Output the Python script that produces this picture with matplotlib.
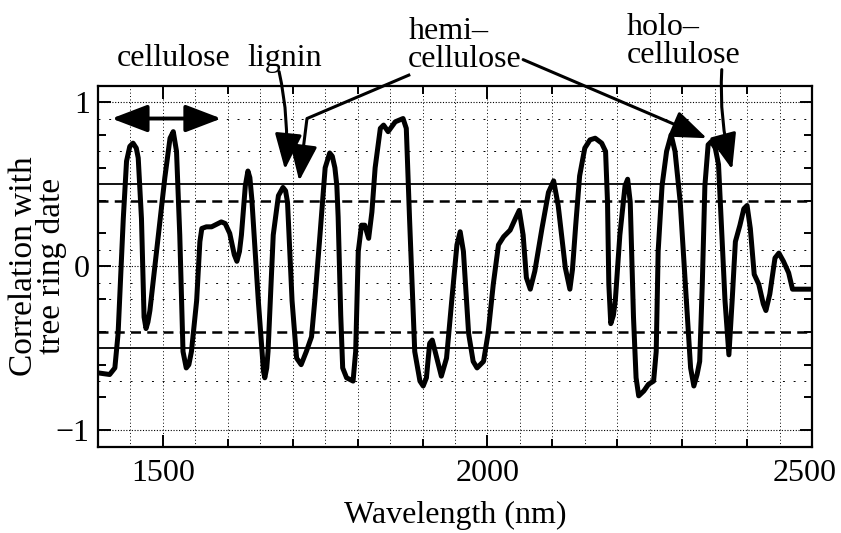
import matplotlib.pyplot as plt
from matplotlib.ticker import MultipleLocator
from matplotlib.transforms import ScaledTranslation

# ------ traced curve: correlation of NIR spectra with tree ring date
wavelength = [1400, 1418, 1426, 1431, 1439, 1444, 1449, 1454, 1459, 1462,
              1467, 1471, 1474, 1477, 1480, 1493, 1503, 1511, 1516, 1521,
              1526, 1531, 1536, 1540, 1544, 1552, 1557, 1560, 1567, 1575,
              1580, 1590, 1596, 1603, 1610, 1614, 1618, 1621, 1627, 1631,
              1634, 1637, 1647, 1655, 1657, 1660, 1662, 1670, 1678, 1685,
              1689, 1692, 1699, 1706, 1713, 1721, 1729, 1734, 1742, 1750,
              1757, 1761, 1765, 1768, 1770, 1774, 1777, 1783, 1793, 1797,
              1801, 1806, 1811, 1817, 1822, 1827, 1835, 1840, 1847, 1858,
              1870, 1875, 1880, 1888, 1896, 1901, 1906, 1911, 1915, 1922,
              1929, 1937, 1945, 1953, 1958, 1963, 1971, 1978, 1984, 1994,
              2001, 2009, 2017, 2025, 2035, 2043, 2049, 2055, 2060, 2066,
              2073, 2084, 2094, 2102, 2109, 2120, 2127, 2131, 2136, 2142,
              2150, 2158, 2166, 2176, 2182, 2185, 2187, 2190, 2194, 2197,
              2204, 2212, 2216, 2220, 2225, 2229, 2233, 2241, 2248, 2256,
              2260, 2263, 2269, 2276, 2283, 2289, 2297, 2305, 2313, 2318,
              2323, 2327, 2331, 2335, 2340, 2345, 2351, 2356, 2360, 2366,
              2372, 2377, 2382, 2389, 2395, 2400, 2405, 2411, 2418, 2425,
              2429, 2435, 2443, 2449, 2456, 2464, 2470, 2479, 2500]
correlation = [-0.65, -0.66, -0.62, -0.41, 0.29, 0.64, 0.73, 0.75, 0.72, 0.66,
               0.29, -0.31, -0.38, -0.34, -0.27, 0.19, 0.54, 0.78, 0.82, 0.70,
               0.19, -0.52, -0.62, -0.60, -0.52, -0.21, 0.15, 0.23, 0.24, 0.24,
               0.25, 0.27, 0.26, 0.20, 0.07, 0.03, 0.09, 0.19, 0.49, 0.58,
               0.54, 0.41, -0.21, -0.64, -0.68, -0.62, -0.52, 0.19, 0.43, 0.48,
               0.46, 0.39, -0.21, -0.56, -0.60, -0.52, -0.43, -0.21, 0.19, 0.60,
               0.69, 0.67, 0.60, 0.49, 0.30, -0.30, -0.62, -0.68, -0.70, -0.52,
               0.09, 0.25, 0.25, 0.17, 0.33, 0.60, 0.84, 0.86, 0.82, 0.88,
               0.90, 0.84, 0.29, -0.52, -0.70, -0.73, -0.68, -0.47, -0.45, -0.56,
               -0.67, -0.56, -0.21, 0.13, 0.21, 0.09, -0.41, -0.58, -0.62, -0.58,
               -0.41, -0.11, 0.13, 0.18, 0.22, 0.29, 0.34, 0.19, -0.07, -0.14,
               -0.03, 0.23, 0.45, 0.52, 0.37, -0.01, -0.14, -0.02, 0.25, 0.55,
               0.72, 0.77, 0.78, 0.75, 0.70, 0.39, -0.11, -0.35, -0.30, -0.21,
               0.19, 0.49, 0.53, 0.39, -0.31, -0.68, -0.79, -0.76, -0.72, -0.70,
               -0.52, 0.09, 0.49, 0.70, 0.80, 0.70, 0.39, -0.11, -0.62, -0.73,
               -0.66, -0.58, -0.11, 0.49, 0.74, 0.76, 0.72, 0.62, 0.29, -0.21,
               -0.54, -0.21, 0.15, 0.25, 0.35, 0.37, 0.23, -0.05, -0.11, -0.23,
               -0.27, -0.17, 0.05, 0.08, 0.03, -0.04, -0.14, -0.14, -0.14]

# significance levels
solid_levels = [0.5, -0.5]
dashed_levels = [0.4, -0.4]

# grid
vgrid = list(range(1450, 2500, 50))
hgrid_major = [-1, 0, 1]
hgrid_sparse = [0.9, 0.7, 0.1, -0.1, -0.2, -0.7]

# annotation texts: (text, x, y, ha)
labels = [("cellulose", 1517, 1.222, "center"),
          ("lignin", 1687, 1.222, "center"),
          ("hemi\u2013\ncellulose", 1878, 1.215, "left"),
          ("holo\u2013\ncellulose", 2214, 1.24, "left")]

# arrows: (tail, tip, rad)
arrows = [((1679, 1.186), (1688, 0.59), -0.08),
          ((1722, 0.90), (1710, 0.52), 0.0),
          ((2055, 1.259), (2338, 0.78), 0.0),
          ((2361, 1.198), (2377, 0.59), 0.08)]
hemi_leader = ([1881, 1722], [1.168, 0.90])
cellulose_span = ((1421, 0.90), (1590, 0.90))

plt.rcParams['font.family'] = ['Liberation Serif', 'DejaVu Serif']

fig = plt.figure(figsize=(8.41, 5.33), dpi=100)
ax = fig.add_axes([0.1165, 0.1619, 0.8490, 0.6773])

for v in vgrid:
    ax.axvline(v, color='black', lw=0.7, ls=(0, (1, 2.5)), zorder=1)
for h in hgrid_major:
    ax.axhline(h, color='black', lw=0.8, ls=(0, (1, 1.5)), zorder=1)
for h in hgrid_sparse:
    ax.axhline(h, color='black', lw=0.7, ls=(0, (2, 9)), zorder=1)

for h in solid_levels:
    ax.axhline(h, color='black', lw=1.3, zorder=2)
for h in dashed_levels:
    ax.axhline(h, color='black', lw=1.8, ls=(0, (4, 2.5)), zorder=2)

ax.plot(wavelength, correlation, color='black', lw=3.6,
        solid_joinstyle='round', solid_capstyle='round', zorder=5)

ax.set_xlim(1400, 2500)
ax.set_ylim(-1.1, 1.1)

ax.xaxis.set_major_locator(MultipleLocator(500))
ax.xaxis.set_minor_locator(MultipleLocator(100))
ax.yaxis.set_major_locator(MultipleLocator(1))
ax.yaxis.set_minor_locator(MultipleLocator(0.2))
ax.tick_params(which='both', direction='in', top=True, right=True,
               labelsize=23, width=1.4, color='black')
ax.tick_params(which='major', length=9)
ax.tick_params(which='minor', length=5.5)
ax.tick_params(axis='x', which='major', pad=9)
ax.tick_params(axis='y', which='major', pad=6)
for s in ax.spines.values():
    s.set_linewidth(1.6)

ax.set_xlabel("Wavelength (nm)", fontsize=23)
ax.xaxis.set_label_coords(0.5, -0.15)
ax.set_ylabel("Correlation with\ntree ring date", fontsize=24, linespacing=0.9)
ax.yaxis.set_label_coords(-0.043, 0.5)

for txt, x, y, ha in labels:
    ax.text(x, y, txt, fontsize=23, ha=ha, va='baseline', linespacing=0.95,
            clip_on=False)

head = "-|>,head_length=1.1,head_width=0.42"
for tail, tip, rad in arrows:
    ax.annotate("", xy=tip, xytext=tail, annotation_clip=False,
                arrowprops=dict(arrowstyle=head, color='black', lw=2.2,
                                mutation_scale=20, shrinkA=0, shrinkB=0,
                                connectionstyle=f"arc3,rad={rad}"),
                zorder=6)
ax.plot(hemi_leader[0], hemi_leader[1], color='black', lw=2.2,
        clip_on=False, zorder=6, solid_capstyle='butt')

ax.annotate("", xy=cellulose_span[1], xytext=cellulose_span[0],
            arrowprops=dict(arrowstyle="<|-|>,head_length=1.1,head_width=0.42",
                            color='black', lw=2.8, mutation_scale=20,
                            shrinkA=0, shrinkB=0), zorder=6)

# keep the 2500 label inside the canvas
fig.canvas.draw()
for lab in ax.get_xticklabels():
    if lab.get_text() == '2500':
        lab.set_transform(lab.get_transform()
                          + ScaledTranslation(-5 / 72, 0, fig.dpi_scale_trans))

fig.savefig("out.png", dpi=100)
